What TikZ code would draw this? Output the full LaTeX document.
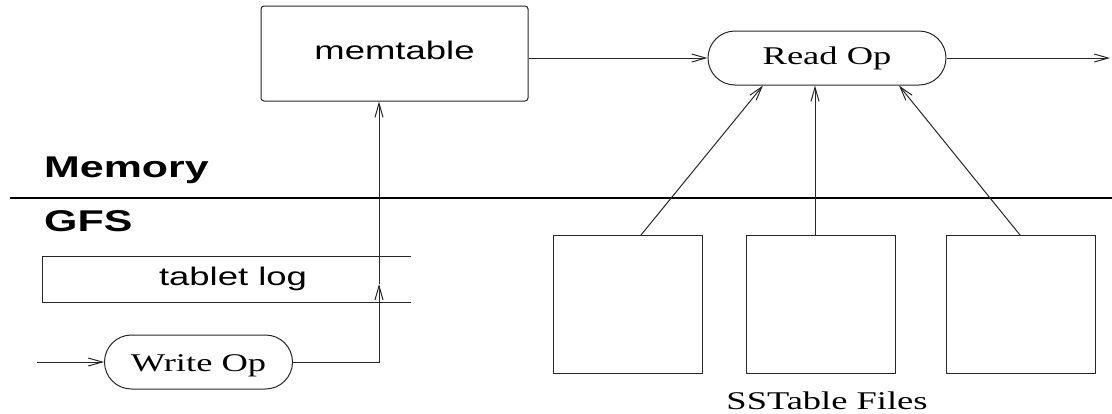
\documentclass[tikz,border=0pt]{standalone}
\usepackage{fontspec}
\setmainfont{Liberation Serif}
\newfontfamily\hvfont{Liberation Sans}
\usetikzlibrary{arrows.meta,calc}
\newcommand{\sxx}[1]{\scalebox{1.43}[1]{#1}}
\tikzset{
  ln/.style={line width=1pt, draw=black!85},
  arr/.style={ln, -{Straight Barb[length=14pt,width=8pt,line width=1pt]}},
  sepline/.style={line width=1.6pt, draw=black},
  serif/.style={font=\fontsize{25.5}{30}\selectfont},
  sans/.style={font=\hvfont\fontsize{25.5}{30}\selectfont},
  boldsans/.style={font=\hvfont\bfseries\fontsize{30}{36}\selectfont},
  opnode/.style={ln, rounded corners=27pt, minimum height=54pt, inner sep=0pt, serif},
  filebox/.style={ln, minimum width=149pt, minimum height=138pt, inner sep=0pt},
}
\begin{document}
\begin{tikzpicture}[x=1pt,y=-1pt]
\useasboundingbox (0,0) rectangle (1112,413);
% memtable
\node[ln, rounded corners=3pt, minimum width=267pt, minimum height=95pt, sans,
      text height=18pt, text depth=7pt, inner sep=0pt] (mt) at (394.5,53.5) {\sxx{memtable}};
% Read Op
\node[opnode, minimum width=238pt] (ro) at (827,58) {\sxx{Read Op}};
% Write Op
\node[opnode, minimum width=188pt, text height=20pt, text depth=2pt] (wo) at (198.5,362) {\sxx{Write Op}};
% SSTable file boxes
\node[filebox] (b1) at (628,304.5) {};
\node[filebox] (b2) at (821,304.5) {};
\node[filebox] (b3) at (1021,304.5) {};
\node[serif, anchor=base, inner sep=0pt] (ssf) at (827,409) {\sxx{SSTable Files}};
% layer labels and separator
\node[boldsans, anchor=base west, inner sep=0pt] (mem) at (44,177) {\sxx{Memory}};
\node[boldsans, anchor=base west, inner sep=0pt] (gfs) at (44,231) {\sxx{GFS}};
\coordinate (sepL) at (10,198);
\coordinate (sepR) at (1112,198);
\draw[sepline] (sepL) -- (sepR);
% tablet log
\coordinate (tlA) at (411,256);
\coordinate (tlB) at (42,256);
\coordinate (tlC) at (42,302);
\coordinate (tlD) at (411,302);
\draw[ln] (tlA) -- (tlB) -- (tlC) -- (tlD);
\node[sans, anchor=base, inner sep=0pt] (tl) at (233,285) {\sxx{tablet log}};
% connectors
\coordinate (in) at (37,362);
\coordinate (mid) at (379,284);
\coordinate (out) at (1110,58);
\draw[arr] (in) -- (wo.west);
\draw[arr] (wo.east) -- (wo.east -| mid) -- (mid);
\draw[arr] (mid) -- (mid |- mt.south);
\draw[arr] (mt.east |- ro.west) -- (ro.west);
\draw[arr] (ro.east) -- (out);
\draw[arr] ($(b1.north)+(13,0)$) -- ($(ro.south)+(-64,0)$);
\draw[arr] ($(b2.north)+(-6,0)$) -- ($(ro.south)+(-12,0)$);
\draw[arr] ($(b3.north)+(-1,0)$) -- ($(ro.south)+(72,0)$);
\end{tikzpicture}
\end{document}
